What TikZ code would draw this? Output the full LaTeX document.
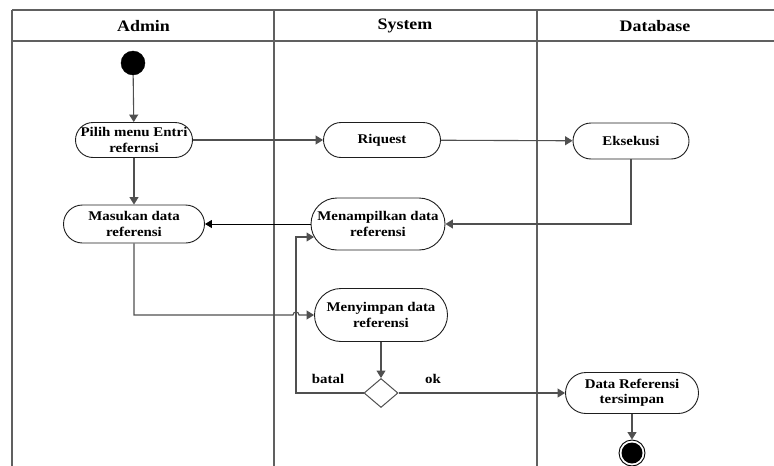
\documentclass[tikz,border=0pt]{standalone}
\usepackage{fontspec}
\setmainfont{Liberation Serif}[FakeStretch=1.12]
\usetikzlibrary{shapes.geometric,arrows.meta}

\definecolor{lanegray}{HTML}{606060}
\definecolor{flowgray}{HTML}{505050}
\definecolor{edgeblack}{HTML}{1E1E1E}

\tikzset{
  lane/.style={draw=lanegray, line width=1.3pt},
  lanehead/.style={font=\fontsize{16}{18}\selectfont\bfseries},
  act/.style={draw=edgeblack, line width=0.9pt, fill=white, rectangle, inner sep=0pt,
    align=center, font=\fontsize{13.3}{15.3}\selectfont\bfseries},
  flow/.style={draw=flowgray, line width=1.1pt,
    -{Triangle[length=7.5pt,width=9pt]}},
  flowdark/.style={draw=black, line width=0.9pt,
    -{Triangle[length=7pt,width=8pt]}},
  guard/.style={font=\fontsize{13.3}{15.3}\selectfont\bfseries},
  decision/.style={draw=flowgray, line width=1pt, fill=white, diamond, inner sep=0pt,
    minimum width=34pt, minimum height=29pt},
  startdot/.style={circle, fill=black, draw=black, minimum size=24pt, inner sep=0pt},
  enddot/.style={circle, draw=black, line width=0.9pt, fill=white, minimum size=26pt,
    inner sep=0pt, path picture={\fill[black] (path picture bounding box.center) circle[radius=10.5pt];}},
}

\begin{document}
\begin{tikzpicture}[x=1pt, y=-1pt]
  \useasboundingbox (0,0) rectangle (774,466);
  \begin{scope}
    \clip (0,0) rectangle (774,466);
    % swimlane frame
    \draw[lane] (12,10) -- (776,10);
    \draw[lane] (12,41) -- (776,41);
    \draw[lane] (12,10) -- (12,470);
    \draw[lane] (274,10) -- (274,470);
    \draw[lane] (537,10) -- (537,470);
  \end{scope}

  % lane titles
  \node[lanehead] (hAdmin) at (143.5,26) {Admin};
  \node[lanehead] (hSystem) at (405,26) {System};
  \node[lanehead] (hDb) at (655,26) {Database};

  % activities
  \node[startdot] (start) at (133,63) {};
  \node[act, minimum width=117pt, minimum height=35pt, rounded corners=17.5pt] (pilih) at (134,140) {Pilih menu Entri\\refernsi};
  \node[act, minimum width=141pt, minimum height=38pt, rounded corners=19pt] (masukan) at (134,224) {Masukan data\\referensi};
  \node[act, minimum width=117pt, minimum height=35pt, rounded corners=17.5pt] (riquest) at (382,140) {Riquest};
  \node[act, minimum width=134pt, minimum height=52pt, rounded corners=26pt] (menampil) at (378,224) {Menampilkan data\\referensi};
  \node[act, minimum width=116pt, minimum height=36pt, rounded corners=18pt] (eksekusi) at (631,141) {Eksekusi};
  \node[act, minimum width=133pt, minimum height=53pt, rounded corners=26.5pt] (menyimpan) at (381,315) {Menyimpan data\\referensi};
  \node[decision] (dec) at (381,393) {};
  \node[act, minimum width=133pt, minimum height=41pt, rounded corners=20.5pt] (tersimpan) at (632,393) {Data Referensi\\tersimpan};
  \node[enddot] (end) at (632,453) {};

  % guard labels
  \node[guard] (lbBatal) at (328,379) {batal};
  \node[guard] (lbOk) at (433,379) {ok};

  % helper points for bent connectors
  \coordinate (hopL) at (293,315);
  \coordinate (batalCorner) at (296,393);
  \coordinate (batalIn) at (314,237);

  % control flow
  \draw[flow] (start) -- (pilih);
  \draw[flow] (pilih) -- (masukan);
  \draw[flow] (pilih) -- (riquest);
  \draw[flow] (riquest) -- (eksekusi);
  \draw[flow] (eksekusi.south) |- (menampil.east);
  \draw[flowdark] (menampil.west) -- (masukan.east);
  \draw[flow] (masukan.south) |- (hopL) arc[start angle=180, end angle=0, radius=3pt] -- (menyimpan.west);
  \draw[flow] (menyimpan) -- (dec);
  \draw[flow] (dec.west) -- (batalCorner) |- (batalIn);
  \draw[flow] (dec.east) -- (tersimpan.west);
  \draw[flow] (tersimpan) -- (end);
\end{tikzpicture}
\end{document}
